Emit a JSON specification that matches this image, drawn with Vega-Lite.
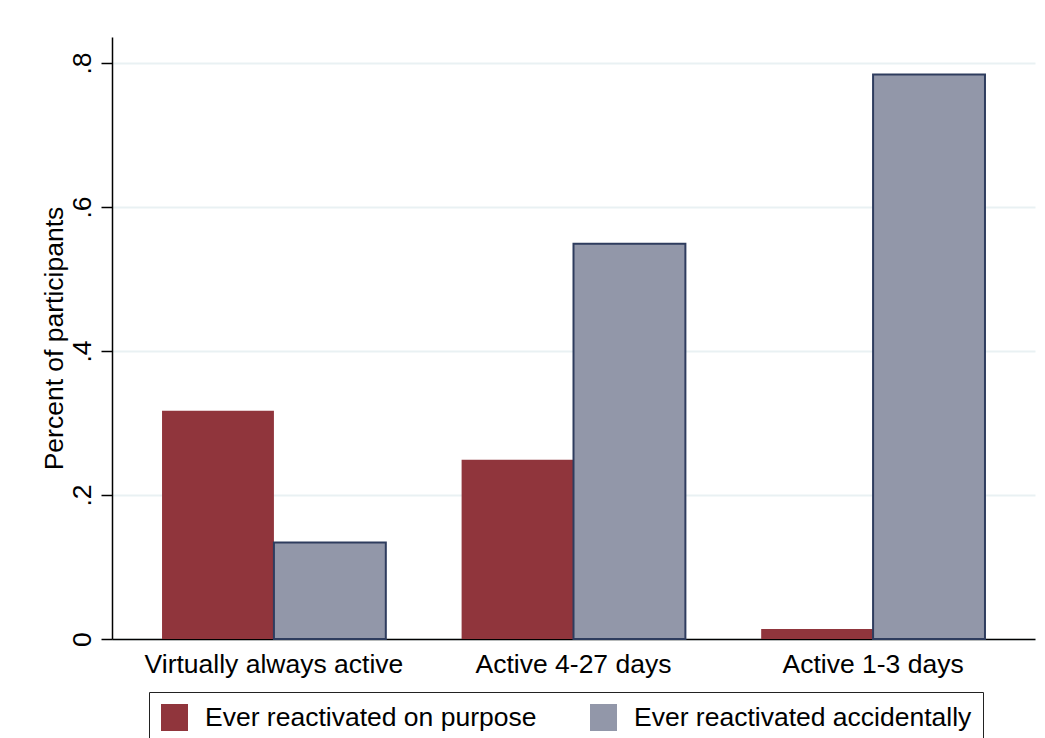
{
  "$schema": "https://vega.github.io/schema/vega-lite/v6.json",
  "width": 923,
  "height": 602,
  "autosize": {"type": "none"},
  "padding": {"left": 112, "top": 37, "right": 10, "bottom": 99},
  "background": "white",
  "data": {
    "values": [
      {"group": "Virtually always active", "series": "Ever reactivated on purpose", "value": 0.317},
      {"group": "Virtually always active", "series": "Ever reactivated accidentally", "value": 0.134},
      {"group": "Active 4-27 days", "series": "Ever reactivated on purpose", "value": 0.249},
      {"group": "Active 4-27 days", "series": "Ever reactivated accidentally", "value": 0.549},
      {"group": "Active 1-3 days", "series": "Ever reactivated on purpose", "value": 0.014},
      {"group": "Active 1-3 days", "series": "Ever reactivated accidentally", "value": 0.784}
    ]
  },
  "mark": {"type": "bar", "strokeWidth": 2},
  "encoding": {
    "x": {
      "field": "group",
      "type": "nominal",
      "sort": ["Virtually always active", "Active 4-27 days", "Active 1-3 days"],
      "scale": {"paddingInner": 0.253, "paddingOuter": 0.167},
      "axis": {
        "title": null,
        "labelAngle": 0,
        "ticks": false,
        "tickSize": 0,
        "labelPadding": 12,
        "labelFontSize": 26.5,
        "labelFont": "Liberation Sans",
        "labelColor": "black",
        "labelLimit": 500,
        "domainColor": "black",
        "domainWidth": 1.5,
        "grid": false
      }
    },
    "xOffset": {
      "field": "series",
      "type": "nominal",
      "sort": ["Ever reactivated on purpose", "Ever reactivated accidentally"],
      "scale": {"paddingInner": 0, "paddingOuter": 0}
    },
    "y": {
      "field": "value",
      "type": "quantitative",
      "scale": {"domain": [0, 0.8361], "nice": false, "zero": true},
      "axis": {
        "title": "Percent of participants",
        "titleFont": "Liberation Sans",
        "titleFontSize": 26.5,
        "titleFontWeight": "normal",
        "titleColor": "black",
        "titlePadding": 1,
        "values": [0, 0.2, 0.4, 0.6, 0.8],
        "labelExpr": "datum.value == 0 ? '0' : replace(format(datum.value, '.1f'), '0.', '.')",
        "labelAngle": -90,
        "labelAlign": "center",
        "labelBaseline": "bottom",
        "labelFontSize": 26.5,
        "labelFont": "Liberation Sans",
        "labelColor": "black",
        "labelPadding": 5,
        "tickSize": 11,
        "tickColor": "black",
        "tickWidth": 1.5,
        "domainColor": "black",
        "domainWidth": 1.5,
        "grid": true,
        "gridColor": "#E9F1F3",
        "gridWidth": 2
      }
    },
    "color": {
      "field": "series",
      "type": "nominal",
      "sort": ["Ever reactivated on purpose", "Ever reactivated accidentally"],
      "scale": {"range": ["#90353C", "#9297A9"]},
      "legend": {
        "title": null,
        "orient": "none",
        "legendX": 37,
        "legendY": 655,
        "direction": "horizontal",
        "columns": 2,
        "columnPadding": 52,
        "symbolType": "square",
        "symbolSize": 729,
        "symbolStrokeWidth": 2,
        "labelFontSize": 26.5,
        "labelFont": "Liberation Sans",
        "labelColor": "black",
        "labelLimit": 600,
        "labelOffset": 16,
        "labelExpr": "datum.label == 'Ever reactivated accidentally' ? datum.label + '\u00a0\u00a0\u00a0\u00a0' : datum.label",
        "padding": 11,
        "strokeColor": "#222222",
        "fillColor": "white",
        "symbolOpacity": 1,
        "encode": {
          "symbols": {
            "update": {
              "stroke": {"signal": "datum.value == 'Ever reactivated accidentally' ? '#2E3C5E' : '#90353C'"},
              "strokeWidth": {"value": 2},
              "opacity": {"value": 1}
            }
          }
        }
      }
    },
    "stroke": {
      "condition": {"test": "datum.series == 'Ever reactivated accidentally'", "value": "#2E3C5E"},
      "value": null
    }
  },
  "config": {"view": {"stroke": null}, "bar": {"opacity": 1}}
}
